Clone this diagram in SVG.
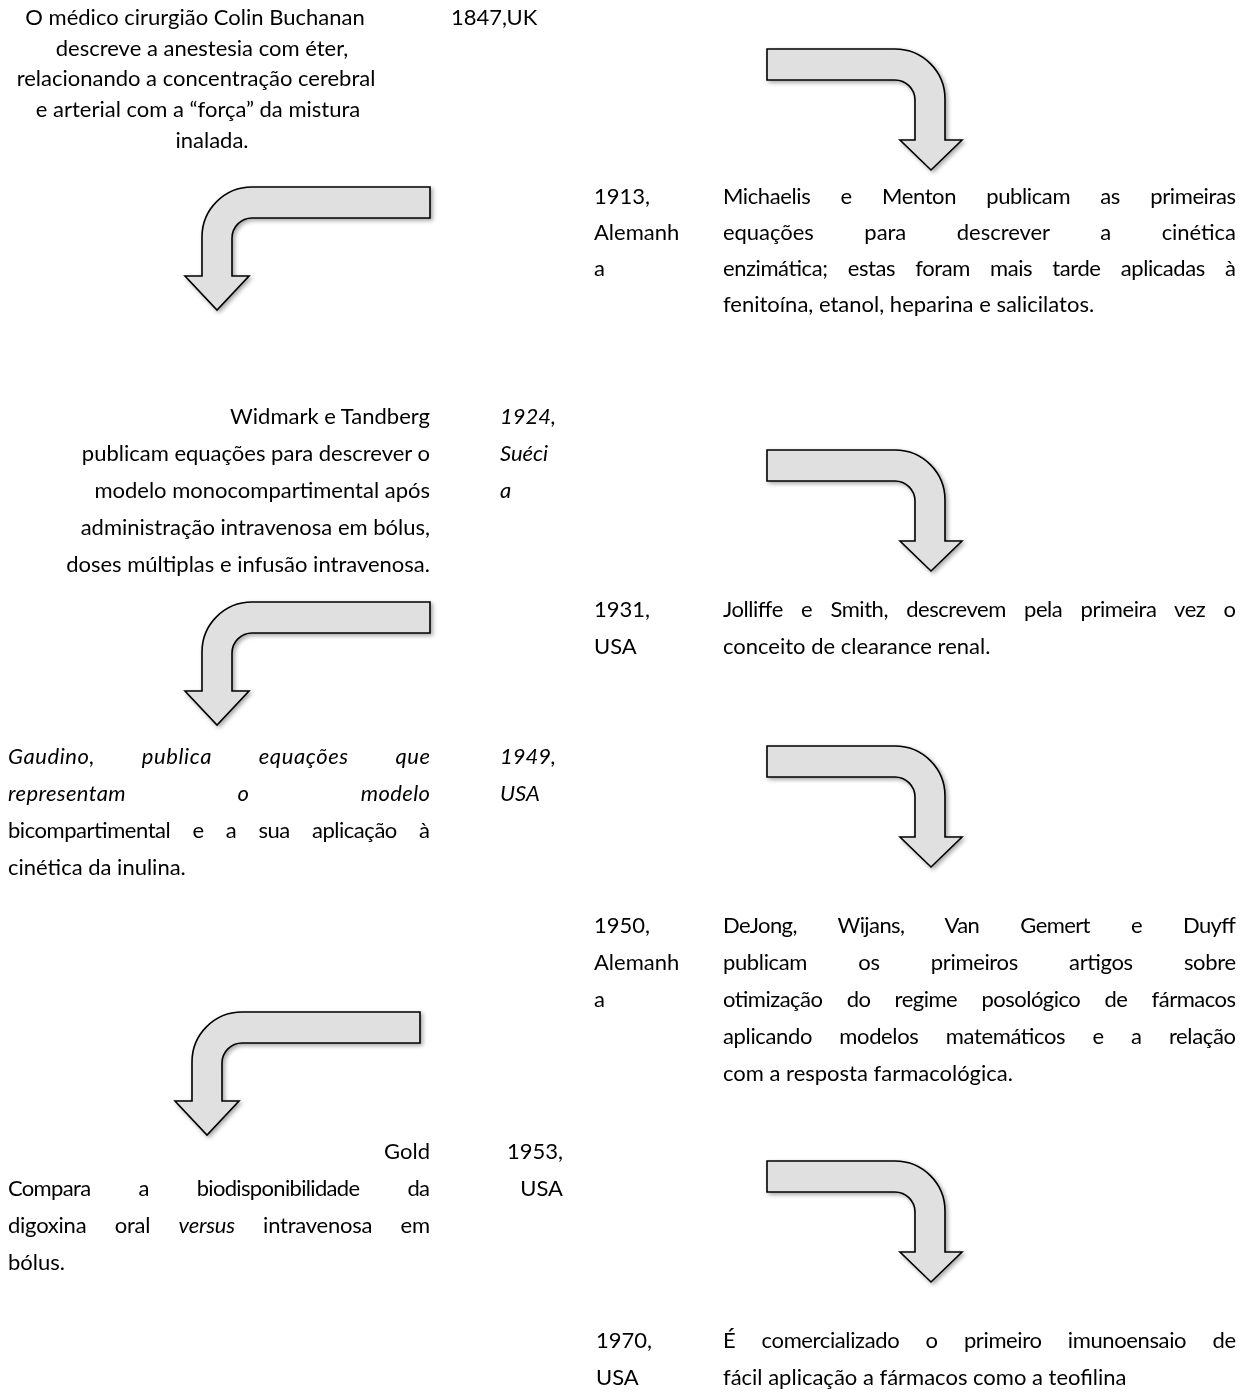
<svg xmlns="http://www.w3.org/2000/svg" width="1240" height="1396" viewBox="0 0 1240 1396">
<style>
.t{font-family:Lato,"Open Sans","Liberation Sans",sans-serif;font-size:22px;fill:#000}
.i{font-style:italic}
.m{text-anchor:middle}
.e{text-anchor:end}
.arr{fill:#e0e0e0;stroke:#000;stroke-width:1.6;stroke-linejoin:miter}
</style>
<defs>
<filter id="sh" x="-10%" y="-10%" width="130%" height="130%">
<feDropShadow dx="2" dy="2" stdDeviation="2" flood-color="#000" flood-opacity="0.35"/>
</filter>
<path id="al" d="M228,0 H50 A50,50 0 0 0 0,50 V89 H-17 L15,123 L47,89 H30 V51 A20,20 0 0 1 50,31 H228 Z"/>
<path id="ar" d="M0,0 H128 A50,50 0 0 1 178,50 V91 H195 L164,121 L133,91 H148 V51 A20,20 0 0 0 128,31 H0 Z"/>
</defs>
<rect width="1240" height="1396" fill="#fff"/>
<g id="connectors" class="arr" filter="url(#sh)">
<use href="#al" transform="translate(202,187)"/>
<use href="#al" transform="translate(202,602)"/>
<use href="#al" transform="translate(192,1012)"/>
<use href="#ar" transform="translate(767,49)"/>
<use href="#ar" transform="translate(767,450)"/>
<use href="#ar" transform="translate(767,746)"/>
<use href="#ar" transform="translate(767,1161)"/>
</g>
<g id="n1847">
<text class="t m"><tspan x="195" y="25">O médico cirurgião Colin Buchanan</tspan><tspan x="202" y="56">descreve a anestesia com éter,</tspan><tspan x="196" y="86">relacionando a concentração cerebral</tspan><tspan x="198" y="117">e arterial com a “força” da mistura</tspan><tspan x="212" y="148">inalada.</tspan></text>
<text class="t" x="451" y="25">1847,UK</text>
</g>
<g id="n1913">
<text class="t"><tspan x="594" y="204">1913,</tspan><tspan x="594" y="240">Alemanh</tspan><tspan x="594" y="276">a</tspan></text>
<text class="t" x="723" y="204" textLength="513" lengthAdjust="spacing" word-spacing="25">Michaelis e Menton publicam as primeiras</text>
<text class="t" x="723" y="240" textLength="513" lengthAdjust="spacing" word-spacing="45">equações para descrever a cinética</text>
<text class="t" x="723" y="276" textLength="513" lengthAdjust="spacing" word-spacing="15">enzimática; estas foram mais tarde aplicadas à</text>
<text class="t" x="723" y="312">fenitoína, etanol, heparina e salicilatos.</text>
</g>
<g id="n1924">
<text class="t e"><tspan x="430" y="424">Widmark e Tandberg</tspan><tspan x="430" y="461">publicam equações para descrever o</tspan><tspan x="430" y="498">modelo monocompartimental após</tspan><tspan x="430" y="535">administração intravenosa em bólus,</tspan><tspan x="430" y="572">doses múltiplas e infusão intravenosa.</tspan></text>
<text class="t i"><tspan x="500" y="424">1924,</tspan><tspan x="500" y="461">Suéci</tspan><tspan x="500" y="498">a</tspan></text>
</g>
<g id="n1931">
<text class="t"><tspan x="594" y="617">1931,</tspan><tspan x="594" y="654">USA</tspan></text>
<text class="t" x="723" y="617" textLength="513" lengthAdjust="spacing" word-spacing="13">Jolliffe e Smith, descrevem pela primeira vez o</text>
<text class="t" x="723" y="654">conceito de clearance renal.</text>
</g>
<g id="n1949">
<text class="t i" x="8" y="764" textLength="422" lengthAdjust="spacing" word-spacing="41">Gaudino, publica equações que</text>
<text class="t i" x="8" y="801" textLength="422" lengthAdjust="spacing" word-spacing="106">representam o modelo</text>
<text class="t" x="8" y="838" textLength="422" lengthAdjust="spacing" word-spacing="17">bicompartimental e a sua aplicação à</text>
<text class="t" x="8" y="875">cinética da inulina.</text>
<text class="t i"><tspan x="500" y="764">1949,</tspan><tspan x="500" y="801">USA</tspan></text>
</g>
<g id="n1950">
<text class="t"><tspan x="594" y="933">1950,</tspan><tspan x="594" y="970">Alemanh</tspan><tspan x="594" y="1007">a</tspan></text>
<text class="t" x="723" y="933" textLength="513" lengthAdjust="spacing" word-spacing="36">DeJong, Wijans, Van Gemert e Duyff</text>
<text class="t" x="723" y="970" textLength="513" lengthAdjust="spacing" word-spacing="46">publicam os primeiros artigos sobre</text>
<text class="t" x="723" y="1007" textLength="513" lengthAdjust="spacing" word-spacing="19">otimização do regime posológico de fármacos</text>
<text class="t" x="723" y="1044" textLength="513" lengthAdjust="spacing" word-spacing="22">aplicando modelos matemáticos e a relação</text>
<text class="t" x="723" y="1081">com a resposta farmacológica.</text>
</g>
<g id="n1953">
<text class="t e" x="430" y="1159">Gold</text>
<text class="t" x="8" y="1196" textLength="422" lengthAdjust="spacing" word-spacing="43">Compara a biodisponibilidade da</text>
<text class="t" x="8" y="1233" textLength="422" lengthAdjust="spacing" word-spacing="23">digoxina oral <tspan class="i">versus</tspan> intravenosa em</text>
<text class="t" x="8" y="1270">bólus.</text>
<text class="t e"><tspan x="563" y="1159">1953,</tspan><tspan x="563" y="1196">USA</tspan></text>
</g>
<g id="n1970">
<text class="t"><tspan x="596" y="1348">1970,</tspan><tspan x="596" y="1385">USA</tspan></text>
<text class="t" x="723" y="1348" textLength="513" lengthAdjust="spacing" word-spacing="21">É comercializado o primeiro imunoensaio de</text>
<text class="t" x="723" y="1385">fácil aplicação a fármacos como a teofilina</text>
</g>
</svg>
